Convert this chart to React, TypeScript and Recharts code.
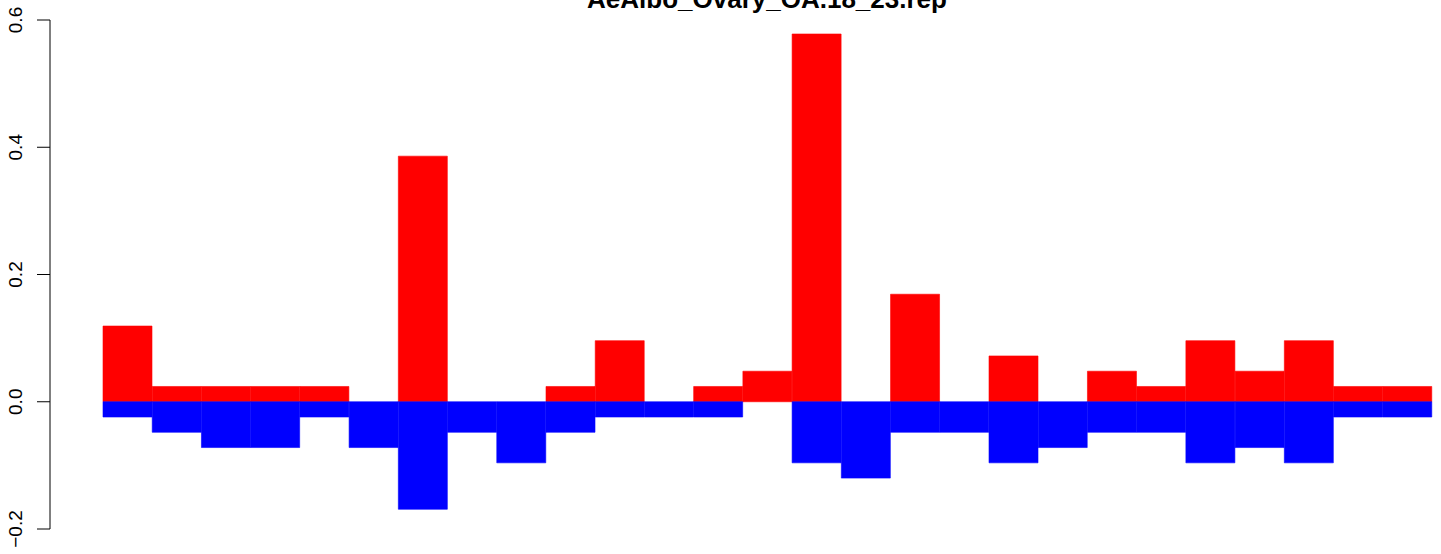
import React from 'react';
import { BarChart, Bar, XAxis, YAxis } from 'recharts';

const TITLE = 'AeAlbo_Ovary_OA.18_23.rep';

const positions = Array.from({ length: 27 }, (_, i) => `p${i + 1}`);

const upValues = [
  0.119, 0.024, 0.024, 0.024, 0.024, 0, 0.386, 0, 0, 0.024,
  0.096, 0, 0.024, 0.048, 0.578, 0, 0.169, 0, 0.072, 0,
  0.048, 0.024, 0.096, 0.048, 0.096, 0.024, 0.024,
];

const downValues = [
  -0.024, -0.048, -0.072, -0.072, -0.024, -0.072, -0.169, -0.048, -0.096, -0.048,
  -0.024, -0.024, -0.024, 0, -0.096, -0.12, -0.048, -0.048, -0.096, -0.072,
  -0.048, -0.048, -0.096, -0.072, -0.096, -0.024, -0.024,
];

const yTicks = [-0.2, 0, 0.2, 0.4, 0.6];

const FONT = '"Liberation Sans", Arial, Helvetica, sans-serif';

const data = positions.map((name, i) => ({
  name,
  up: upValues[i],
  down: downValues[i],
}));

const fmt = (v: number) => (v < 0 ? '\u2212' : '') + Math.abs(v).toFixed(1);

// R-style rotated tick labels to the left of the axis
const RotatedTick = (props: any) => {
  const { y, payload } = props;
  return (
    <text
      transform={`translate(22, ${y}) rotate(-90)`}
      textAnchor="middle"
      fontSize={19}
      fontFamily={FONT}
      fill="#000"
    >
      {fmt(payload.value)}
    </text>
  );
};

const App: React.FC = () => {
  return (
    <div style={{ position: 'absolute', left: 0, top: 0, width: 1441, height: 554, background: '#fff' }}>
      <BarChart
        width={1441}
        height={554}
        data={data}
        stackOffset="sign"
        barCategoryGap={0}
        margin={{ top: 20, right: 0, bottom: 25, left: 0 }}
      >
        <XAxis dataKey="name" hide padding={{ left: 53, right: 9 }} />
        <YAxis
          width={50}
          domain={[-0.2, 0.6]}
          ticks={yTicks}
          interval={0}
          tickSize={13}
          axisLine={{ stroke: '#000', strokeWidth: 1 }}
          tickLine={{ stroke: '#000', strokeWidth: 1 }}
          tick={<RotatedTick />}
        />
        {/* thin same-colour stroke closes the hairline seams between adjacent bars */}
        <Bar dataKey="up" stackId="s" fill="#FF0000" stroke="#FF0000" strokeWidth={0.6} isAnimationActive={false} />
        <Bar dataKey="down" stackId="s" fill="#0000FF" stroke="#0000FF" strokeWidth={0.6} isAnimationActive={false} />
        <text
          x={767}
          y={8}
          textAnchor="middle"
          fontSize={26}
          fontWeight="bold"
          fontFamily={FONT}
          fill="#000"
        >
          {TITLE}
        </text>
      </BarChart>
    </div>
  );
};

export default App;
